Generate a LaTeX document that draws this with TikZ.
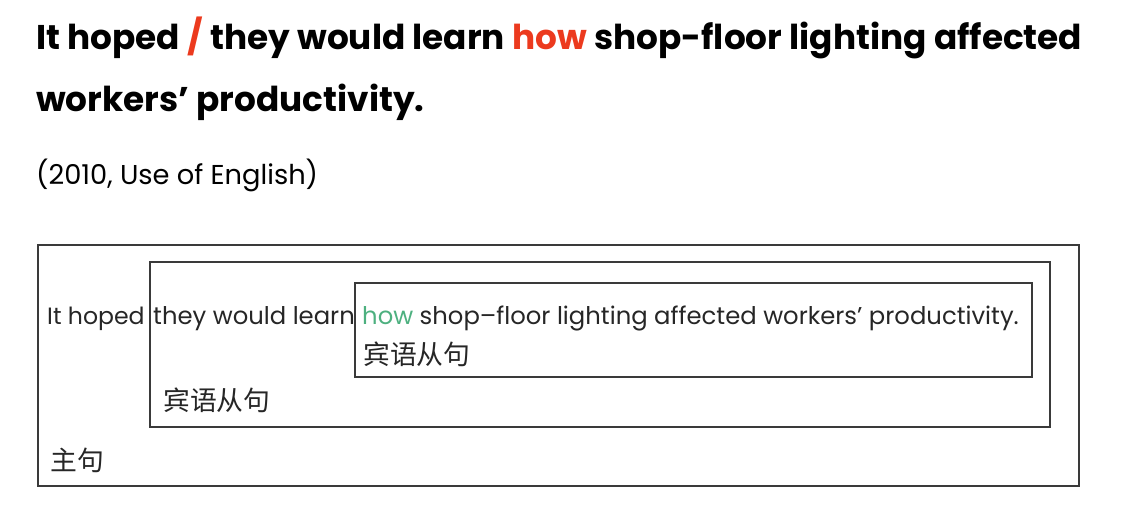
\documentclass[tikz,border=0pt]{standalone}
\usepackage{fontspec}
\setmainfont{Poppins}
\newfontfamily\titlefont{Poppins}
\newfontfamily\boxfont{Poppins}
\newfontfamily\cjk{Noto Sans CJK SC}
\definecolor{hred}{HTML}{EC3A1E}
\definecolor{hgreen}{HTML}{4DB07F}
\definecolor{boxline}{HTML}{3A3A3A}
\begin{document}
\begin{tikzpicture}[x=1pt,y=-1pt,
  title/.style={anchor=base west,inner sep=0pt,font=\titlefont\bfseries\fontsize{34.3}{34.3}\selectfont},
  note/.style={anchor=base west,inner sep=0pt,font=\titlefont\fontsize{27.3}{27.3}\selectfont},
  boxtext/.style={anchor=base west,inner sep=0pt,font=\boxfont\fontsize{24.3}{24.3}\selectfont,text=black!85},
  cjktext/.style={anchor=base west,inner sep=0pt,font=\cjk\fontsize{26.8}{26.8}\selectfont,text=black!85},
  frame/.style={draw=boxline,line width=1.4pt}]
\useasboundingbox (0,0) rectangle (1132,526);
\node[title] (t1) at (36,50) {It hoped \textcolor{hred}{/} they would learn \textcolor{hred}{how} shop-floor lighting affected};
\node[title] (t2) at (36,112) {workers’ productivity.};
\node[note] (src) at (36,185) {(2010, Use of English)};
\draw[frame] (38,245) rectangle (1079,486);
\draw[frame] (150,262) rectangle (1050,427);
\draw[frame] (355,283) rectangle (1032,377);
\node[boxtext,font=\boxfont\fontsize{23.6}{23.6}\selectfont] (w1) at (47,325) {It hoped};
\node[boxtext] (w2) at (153,325) {they would learn};
\node[boxtext] (w3) at (362,325) {\textcolor{hgreen}{how} shop–floor lighting affected workers’ productivity.};
\node[cjktext] (c1) at (363,365) {宾语从句};
\node[cjktext] (c2) at (163,410) {宾语从句};
\node[cjktext] (c3) at (50,470) {主句};
\end{tikzpicture}
\end{document}
